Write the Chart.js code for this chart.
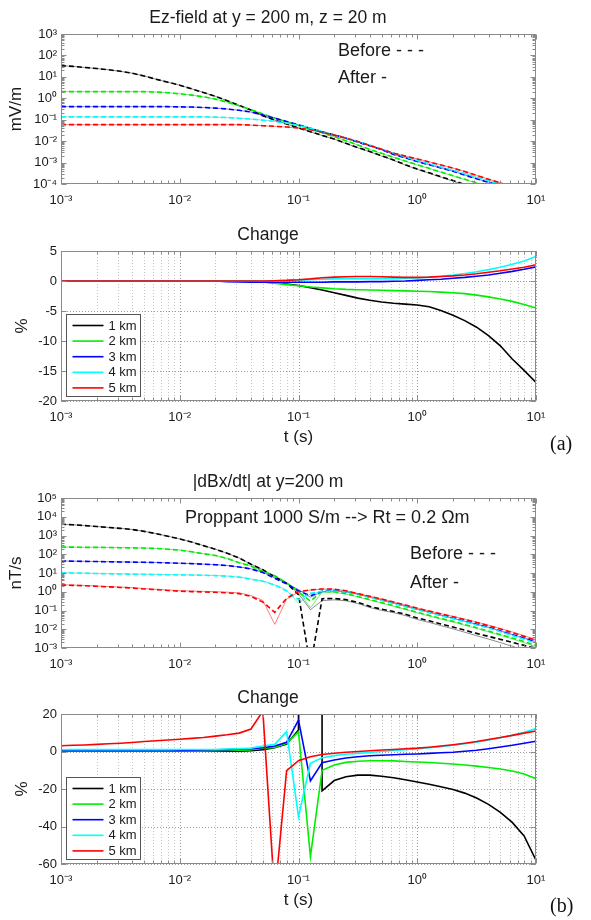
<!DOCTYPE html>
<html>
<head>
<meta charset="utf-8">
<script src="https://cdn.jsdelivr.net/npm/chart.js@4.4.1/dist/chart.umd.min.js"></script>
<style>
body { margin: 0; background: #fff; }
#page { position: relative; width: 591px; height: 920px; overflow: hidden; background: #fff; }
#page canvas { position: absolute; left: 0; }
.tag { position: absolute; left: 550px; font: 20px "Liberation Serif", "Times New Roman", serif; line-height: 20px; color: #111; }
</style>
</head>
<body>
<div id="page">
  <canvas id="c1" width="591" height="220" style="top:0px"></canvas>
  <canvas id="c2" width="591" height="240" style="top:220px"></canvas>
  <canvas id="c3" width="591" height="220" style="top:460px"></canvas>
  <canvas id="c4" width="591" height="240" style="top:680px"></canvas>
  <div class="tag" style="top:433px">(a)</div>
  <div class="tag" style="top:895px">(b)</div>
</div>
<script>
// sample times, 10 per decade
var t = [0.001, 0.00126, 0.00158, 0.002, 0.00251, 0.00316, 0.00398, 0.00501, 0.00631, 0.00794,
         0.01, 0.0126, 0.0158, 0.02, 0.0251, 0.0316, 0.0398, 0.0501, 0.0631, 0.0794,
         0.1, 0.126, 0.158, 0.2, 0.251, 0.316, 0.398, 0.501, 0.631, 0.794,
         1, 1.26, 1.58, 2, 2.51, 3.16, 3.98, 5.01, 6.31, 7.94, 10];
var labels = ['1 km', '2 km', '3 km', '4 km', '5 km'];
var colors = ['#000000', '#00ee00', '#0000ff', '#00ffff', '#ff0000'];
var fades = ['rgba(0,0,0,0.45)', 'rgba(0,200,0,0.5)', 'rgba(0,0,255,0.5)', 'rgba(0,200,200,0.5)', 'rgba(255,0,0,0.5)'];

// (a) Ez-field before, mV/m
var ez1 = [33.1, 30.9, 27.5, 24.5, 21.4, 18.2, 14.8, 11.0, 7.76, 5.62, 4.07, 2.75, 1.86, 1.23, 0.776, 0.468, 0.282, 0.151, 0.0955, 0.0631,
           0.0417, 0.0275, 0.0186, 0.0126, 0.00794, 0.00501, 0.00331, 0.00209, 0.00132, 7.94e-4, 5.01e-4, 3.31e-4, 2.19e-4, 1.45e-4, 9.55e-5, 6.31e-5,
           null, null, null, null, null];
var ez2 = [2.04, 2.04, 2.04, 2.04, 2.04, 2.04, 2.04, 2.04, 1.95, 1.82, 1.62, 1.41, 1.17, 0.912, 0.661, 0.447, 0.295, 0.186, 0.120, 0.0794,
           0.0537, 0.0363, 0.0245, 0.0162, 0.0105, 0.00661, 0.00417, 0.00269, 0.00178, 0.00117, 7.94e-4, 5.37e-4, 3.63e-4, 2.45e-4, 1.66e-4, 1.15e-4,
           7.94e-5, null, null, null, null];
var ez3 = [0.407, 0.407, 0.407, 0.407, 0.407, 0.407, 0.407, 0.407, 0.407, 0.407, 0.398, 0.389, 0.372, 0.347, 0.316, 0.275, 0.229, 0.166, 0.117, 0.0832,
           0.0575, 0.0398, 0.0275, 0.0195, 0.0138, 0.00891, 0.00603, 0.00398, 0.0024, 0.00166, 0.00112, 7.94e-4, 5.62e-4, 3.98e-4, 2.63e-4, 1.74e-4,
           1.2e-4, 8.32e-5, null, null, null];
var ez4 = [0.135, 0.135, 0.135, 0.135, 0.135, 0.135, 0.135, 0.135, 0.135, 0.135, 0.135, 0.135, 0.135, 0.132, 0.126, 0.117, 0.107, 0.0955, 0.0832, 0.0692,
           0.0537, 0.0398, 0.0282, 0.02, 0.0141, 0.00955, 0.00646, 0.00427, 0.00275, 0.00182, 0.00126, 8.71e-4, 6.17e-4, 4.37e-4, 3.02e-4, 2.09e-4,
           1.41e-4, 9.55e-5, null, null, null];
var ez5 = [0.0589, 0.0589, 0.0589, 0.0589, 0.0589, 0.0589, 0.0589, 0.0589, 0.0589, 0.0589, 0.0589, 0.0589, 0.0589, 0.0589, 0.0589, 0.0589, 0.0562, 0.0525, 0.049, 0.0457,
           0.0407, 0.0339, 0.0263, 0.0191, 0.0138, 0.00955, 0.00631, 0.00417, 0.00275, 0.002, 0.00148, 0.00107, 7.76e-4, 5.5e-4, 3.8e-4, 2.51e-4,
           1.66e-4, 1.12e-4, 7.59e-5, null, null];

// (a) change, %
var ch1 = [0.05, 0.05, 0.05, 0.05, 0.05, 0.05, 0.05, 0.05, 0.05, 0.05, 0.05, 0.05, 0.05, 0.05, 0.05, 0.05, -0.05, -0.15, -0.3, -0.5,
           -0.75, -1.1, -1.5, -1.95, -2.4, -2.85, -3.2, -3.5, -3.7, -3.85, -4.0, -4.3, -4.9, -5.7, -6.6, -7.7, -9.1, -10.8, -13.0, -14.9, -16.9];
var ch2 = [0, 0, 0, 0, 0, 0, 0, 0, 0, 0, 0, 0, 0, 0, 0, 0, 0, -0.15, -0.35, -0.6,
           -0.8, -1.0, -1.15, -1.3, -1.4, -1.45, -1.5, -1.55, -1.6, -1.65, -1.7, -1.75, -1.85, -1.95, -2.1, -2.35, -2.65, -3.0, -3.4, -3.9, -4.5];
var ch3 = [0, 0, 0, 0, 0, 0, 0, 0, 0, 0, 0, 0, 0, 0, -0.1, -0.15, -0.2, -0.2, -0.2, -0.2,
           -0.2, -0.2, -0.2, -0.15, -0.15, -0.15, -0.1, -0.1, -0.05, 0.0, 0.1, 0.2, 0.3, 0.45, 0.6, 0.8, 1.0, 1.3, 1.6, 1.95, 2.35];
var ch4 = [0, 0, 0, 0, 0, 0, 0, 0, 0, 0, 0, 0, 0, 0, 0, 0, 0, 0, 0.05, 0.1,
           0.15, 0.2, 0.3, 0.35, 0.4, 0.4, 0.4, 0.4, 0.4, 0.45, 0.5, 0.65, 0.8, 1.0, 1.25, 1.55, 1.9, 2.3, 2.8, 3.35, 4.1];
var ch5 = [0, 0, 0, 0, 0, 0, 0, 0, 0, 0, 0, 0, 0, 0, 0, 0, 0, 0, 0.05, 0.1,
           0.2, 0.35, 0.55, 0.65, 0.72, 0.75, 0.75, 0.72, 0.65, 0.6, 0.6, 0.65, 0.75, 0.85, 1.0, 1.2, 1.45, 1.7, 2.0, 2.3, 2.7];

// (b) |dBx/dt| before, nT/s
var db1 = [3980, 3720, 3390, 3020, 2690, 2400, 2090, 1660, 1260, 912, 661, 447, 288, 186, 112, 63.1, 29.5, 14.8, 6.31, 2.82,
           0.708, 0.0001, 0.427, 0.437, 0.38, 0.269, 0.166, 0.117, 0.0891, 0.0631, 0.0398, 0.0282, 0.0191, 0.0132, 0.00891, 0.00603, 0.00417, 0.00288, 0.002, 0.00138, 0.000955];
var db2 = [240, 240, 234, 234, 229, 224, 219, 214, 204, 186, 166, 135, 107, 85.1, 58.9, 35.5, 23.4, 12.0, 7.08, 2.95,
           1.0, 0.316, 1.05, 1.0, 0.794, 0.562, 0.38, 0.263, 0.178, 0.12, 0.0794, 0.055, 0.038, 0.0263, 0.0178, 0.012, 0.00794, 0.00525, 0.00339, 0.00219, 0.00138];
var db3 = [43.7, 42.7, 41.7, 40.7, 39.8, 38.9, 38.0, 37.2, 36.3, 34.7, 33.1, 31.6, 29.5, 27.5, 25.1, 20.9, 16.6, 10.5, 5.25, 2.63,
           1.12, 0.603, 1.07, 1.15, 1.02, 0.759, 0.525, 0.363, 0.251, 0.174, 0.117, 0.0813, 0.0562, 0.0389, 0.0269, 0.0186, 0.0126, 0.00794, 0.00513, 0.00331, 0.00209];
var db4 = [10.5, 10.0, 9.77, 9.33, 9.12, 8.91, 8.71, 8.51, 8.32, 8.13, 7.94, 7.76, 7.59, 7.24, 6.76, 6.03, 4.68, 3.63, 2.29, 1.1,
           0.372, 0.832, 1.05, 1.1, 1.0, 0.759, 0.525, 0.355, 0.245, 0.166, 0.112, 0.0776, 0.0537, 0.0372, 0.0251, 0.017, 0.0115, 0.00741, 0.00468, 0.00295, 0.00178];
var db5 = [2.29, 2.19, 2.09, 1.95, 1.82, 1.7, 1.58, 1.41, 1.29, 1.17, 1.07, 1.02, 0.977, 0.933, 0.871, 0.794, 0.562, 0.282, 0.0794, 0.447,
           1.02, 1.26, 1.41, 1.38, 1.12, 0.794, 0.575, 0.407, 0.282, 0.195, 0.132, 0.0933, 0.0661, 0.0468, 0.0331, 0.0229, 0.0155, 0.0102, 0.00661, 0.00417, 0.00251];

// (b) change, %  (black at 0.126 s goes far off the top)
var cb1 = [0.2, 0.2, 0.2, 0.2, 0.2, 0.2, 0.2, 0.2, 0.2, 0.2, 0.2, 0.2, 0.2, 0.2, 0.2, 0.2, 0.4, 1.0, 2.0, 4.0,
           11.5, 110000, -21, -15.5, -13.5, -12.6, -12.6, -13.2, -14.0, -15.1, -16.3, -17.5, -18.8, -20.3, -22.2, -24.8, -28.2, -32.5, -37.8, -45, -58];
var cb2 = [0.3, 0.3, 0.3, 0.3, 0.3, 0.3, 0.3, 0.3, 0.3, 0.3, 0.3, 0.3, 0.3, 0.4, 0.5, 0.7, 1.0, 1.7, 2.2, 4.4,
           10.5, -56, -10, -7.2, -5.8, -5.2, -4.9, -4.9, -5.0, -5.3, -5.6, -5.9, -6.3, -6.7, -7.2, -7.8, -8.5, -9.3, -10.4, -12.0, -14.5];
var cb3 = [0.6, 0.6, 0.6, 0.6, 0.6, 0.6, 0.6, 0.6, 0.6, 0.6, 0.6, 0.7, 0.8, 0.9, 1.0, 1.2, 1.5, 2.0, 2.9, 4.9,
           16.8, -15.7, -6.0, -4.5, -3.5, -2.8, -2.3, -2.0, -1.7, -1.5, -1.3, -1.0, -0.7, -0.4, 0.1, 0.7, 1.5, 2.4, 3.3, 4.4, 5.5];
var cb4 = [0.9, 1.0, 1.0, 1.0, 1.0, 1.0, 1.0, 1.0, 1.0, 1.0, 1.1, 1.1, 1.1, 1.1, 1.3, 1.5, 1.8, 2.9, 3.8, 10.6,
           -34.8, -6.3, -3.3, -2.2, -1.5, -1.0, -0.5, 0, 0.5, 1.0, 1.5, 2.0, 2.6, 3.3, 4.1, 5.0, 6.1, 7.3, 8.6, 10.3, 12.2];
var cb5 = [3.1, 3.3, 3.5, 3.8, 4.1, 4.4, 4.8, 5.3, 5.7, 6.1, 6.5, 7.0, 7.5, 8.2, 8.9, 9.8, 12.0, 21.5, -77, -10.2,
           -4.9, -2.8, -1.6, -0.9, -0.4, 0.0, 0.4, 0.8, 1.1, 1.5, 1.8, 2.3, 2.9, 3.6, 4.4, 5.3, 6.4, 7.5, 8.6, 9.8, 10.9];

var fontFam = '"Liberation Sans", Arial, Helvetica, sans-serif';
var textColor = '#1a1a1a';
var axisColor = '#8a8a8a';
var sup = {'-': '\u207B', '0': '\u2070', '1': '\u00B9', '2': '\u00B2', '3': '\u00B3', '4': '\u2074', '5': '\u2075', '6': '\u2076', '7': '\u2077', '8': '\u2078', '9': '\u2079'};

function mantissa(v) {
    var e = Math.floor(Math.log10(v) + 1e-9);
    return v / Math.pow(10, e);
}
function isDecade(v) {
    return Math.abs(mantissa(v) - 1) < 1e-6;
}
function powLabel(v) {
    if (!isDecade(v)) return '';
    var e = String(Math.round(Math.log10(v)));
    return '10' + e.split('').map(function (c) { return sup[c]; }).join('');
}
function series(vals) {
    return t.map(function (x, i) { return {x: x, y: vals[i]}; });
}
function afterOf(before, pct) {
    return before.map(function (v, i) { return v == null ? null : v * (1 + pct[i] / 100); });
}

// box, inward ticks, dotted grid, legend and notes
var extras = {
    id: 'extras',
    beforeDatasetsDraw: function (chart, args, opts) {
        if (!opts.grid) return;
        var a = chart.chartArea, ctx = chart.ctx;
        var sx = chart.scales.x, sy = chart.scales.y;
        ctx.save();
        ctx.lineWidth = 1;
        ctx.setLineDash([1, 2]);
        sx.ticks.forEach(function (tk) {
            var px = Math.round(sx.getPixelForValue(tk.value)) + 0.5;
            ctx.strokeStyle = isDecade(tk.value) ? '#9a9a9a' : '#c6c6c6';
            ctx.beginPath(); ctx.moveTo(px, a.top); ctx.lineTo(px, a.bottom); ctx.stroke();
        });
        sy.ticks.forEach(function (tk) {
            var py = Math.round(sy.getPixelForValue(tk.value)) + 0.5;
            ctx.strokeStyle = '#9a9a9a';
            ctx.beginPath(); ctx.moveTo(a.left, py); ctx.lineTo(a.right, py); ctx.stroke();
        });
        ctx.restore();
    },
    afterDraw: function (chart, args, opts) {
        var a = chart.chartArea, ctx = chart.ctx;
        var sx = chart.scales.x, sy = chart.scales.y;
        var l = Math.round(a.left) + 0.5, r = Math.round(a.right) - 0.5;
        var tp = Math.round(a.top) + 0.5, b = Math.round(a.bottom) - 0.5;
        ctx.save();
        ctx.strokeStyle = axisColor;
        ctx.lineWidth = 1;
        ctx.beginPath();
        sx.ticks.forEach(function (tk) {
            var px = Math.round(sx.getPixelForValue(tk.value)) + 0.5;
            var len = isDecade(tk.value) ? 5 : 3;
            ctx.moveTo(px, b); ctx.lineTo(px, b - len);
            ctx.moveTo(px, tp); ctx.lineTo(px, tp + len);
        });
        sy.ticks.forEach(function (tk) {
            var py = Math.round(sy.getPixelForValue(tk.value)) + 0.5;
            var len = (sy.type !== 'logarithmic' || isDecade(tk.value)) ? 5 : 3;
            ctx.moveTo(l, py); ctx.lineTo(l + len, py);
            ctx.moveTo(r, py); ctx.lineTo(r - len, py);
        });
        ctx.stroke();
        ctx.strokeRect(l, tp, r - l, b - tp);

        ctx.fillStyle = textColor;
        ctx.textBaseline = 'middle';
        ctx.textAlign = 'left';
        ctx.font = '18px ' + fontFam;
        (opts.notes || []).forEach(function (n) {
            ctx.fillText(n[0], a.left + n[1], a.top + n[2]);
        });

        if (opts.legend) {
            var bx = Math.round(a.left) + 5.5, bw = 74, bh = 82;
            var by = Math.round(a.bottom) - 4.5 - bh;
            ctx.fillStyle = '#fff';
            ctx.fillRect(bx, by, bw, bh);
            ctx.strokeStyle = '#555';
            ctx.strokeRect(bx, by, bw, bh);
            ctx.font = '13px ' + fontFam;
            labels.forEach(function (lab, i) {
                var yy = by + 11 + i * 15.6;
                ctx.strokeStyle = colors[i];
                ctx.lineWidth = 1.6;
                ctx.beginPath(); ctx.moveTo(bx + 6, yy); ctx.lineTo(bx + 37, yy); ctx.stroke();
                ctx.fillStyle = textColor;
                ctx.fillText(lab, bx + 42, yy + 0.5);
            });
        }
        ctx.restore();
    }
};

function xAxis(height, withTitle, titlePad) {
    return {
        type: 'logarithmic', min: 1e-3, max: 10,
        afterBuildTicks: function (s) {
            s.ticks = s.ticks.filter(function (tk) { var m = mantissa(tk.value); return Math.abs(m - Math.round(m)) < 1e-6; });
        },
        afterFit: function (s) { s.height = height; },
        grid: { display: false, drawTicks: false },
        border: { display: false },
        ticks: { autoSkip: false, maxRotation: 0, padding: 9, color: textColor, font: { family: fontFam, size: 13 }, callback: powLabel },
        title: { display: withTitle, text: 't (s)', color: textColor, font: { family: fontFam, size: 17 }, padding: { top: 0, bottom: titlePad } }
    };
}
function yLog(min, max, title, titlePad) {
    return {
        type: 'logarithmic', min: min, max: max,
        afterBuildTicks: function (s) {
            s.ticks = s.ticks.filter(function (tk) { var m = mantissa(tk.value); return Math.abs(m - Math.round(m)) < 1e-6; });
        },
        afterFit: function (s) { s.width = 61; },
        grid: { display: false, drawTicks: false },
        border: { display: false },
        ticks: { autoSkip: false, padding: 4, color: textColor, font: { family: fontFam, size: 13 }, callback: powLabel },
        title: { display: true, text: title, color: textColor, font: { family: fontFam, size: 17 }, padding: { top: titlePad, bottom: 0 } }
    };
}
function yLin(min, max, step, titlePad) {
    return {
        type: 'linear', min: min, max: max,
        afterFit: function (s) { s.width = 61; },
        grid: { display: false, drawTicks: false },
        border: { display: false },
        ticks: { stepSize: step, padding: 4, color: textColor, font: { family: fontFam, size: 13 } },
        title: { display: true, text: '%', color: textColor, font: { family: fontFam, size: 17 }, padding: { top: titlePad, bottom: 0 } }
    };
}

function dashedSets(before, after) {
    var sets = [];
    for (var i = 0; i < 5; i++) {
        sets.push({ label: labels[i] + ' before', data: series(before[i]), borderColor: colors[i], borderWidth: 1.6,
                    borderDash: [5, 3], pointRadius: 0, order: 4 - i });
        sets.push({ label: labels[i] + ' after', data: series(after[i]), borderColor: fades[i], borderWidth: 1,
                    pointRadius: 0, order: 14 - i });
    }
    return sets;
}
function solidSets(vals) {
    return vals.map(function (v, i) {
        return { label: labels[i], data: series(v), borderColor: colors[i], borderWidth: 1.6, pointRadius: 0, order: 4 - i };
    });
}

function makeChart(id, padTop, title, datasets, scales, extra) {
    return new Chart(document.getElementById(id), {
        type: 'line',
        data: { datasets: datasets },
        options: {
            responsive: false,
            animation: false,
            events: [],
            layout: { autoPadding: false, padding: { top: padTop, right: 55, bottom: 0, left: 0 } },
            scales: scales,
            elements: { line: { tension: 0 } },
            plugins: {
                legend: { display: false },
                tooltip: { enabled: false },
                title: { display: true, text: title, color: textColor, font: { family: fontFam, size: 17.5, weight: 'normal' },
                         padding: { top: 0, bottom: 5.5 } },
                extras: extra
            }
        },
        plugins: [extras]
    });
}

var ezBefore = [ez1, ez2, ez3, ez4, ez5];
var ezChange = [ch1, ch2, ch3, ch4, ch5];
var dbBefore = [db1, db2, db3, db4, db5];
var dbChange = [cb1, cb2, cb3, cb4, cb5];

makeChart('c1', 7.5, 'Ez-field at y = 200 m, z = 20 m',
    dashedSets(ezBefore, ezBefore.map(function (b, i) { return afterOf(b, ezChange[i]); })),
    { x: xAxis(36, false, 0), y: yLog(1e-4, 1e3, 'mV/m', 6) },
    { grid: false, legend: false, notes: [['Before - - -', 277, 17], ['After -', 277, 44]] });

makeChart('c2', 4.5, 'Change', solidSets(ezChange),
    { x: xAxis(59, true, 12.8), y: yLin(-20, 5, 5, 12) },
    { grid: true, legend: true, notes: [] });

makeChart('c3', 11.5, '|dBx/dt| at y=200 m',
    dashedSets(dbBefore, dbBefore.map(function (b, i) { return afterOf(b, dbChange[i]); })),
    { x: xAxis(32, false, 0), y: yLog(1e-3, 1e5, 'nT/s', 6) },
    { grid: false, legend: false,
      notes: [['Proppant 1000 S/m --> Rt = 0.2 \u03A9m', 124, 20], ['Before - - -', 349, 56], ['After -', 349, 85]] });

makeChart('c4', 7.5, 'Change', solidSets(dbChange),
    { x: xAxis(56, true, 9.8), y: yLin(-60, 20, 20, 12) },
    { grid: true, legend: true, notes: [] });
</script>
</body>
</html>
